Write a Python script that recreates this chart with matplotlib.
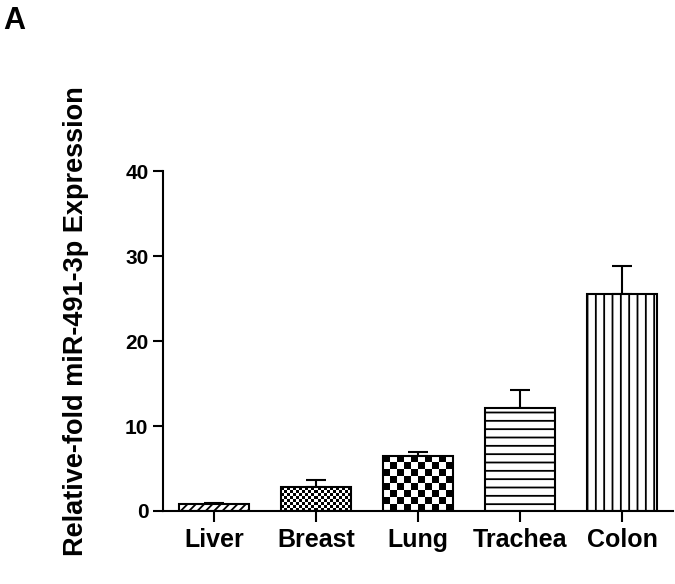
import matplotlib
matplotlib.use("Agg")
import matplotlib.pyplot as plt
import numpy as np

plt.rcParams["font.family"] = ["Liberation Sans", "DejaVu Sans"]
plt.rcParams["font.weight"] = "bold"
plt.rcParams["hatch.linewidth"] = 1.3

tissues = ["Liver", "Breast", "Lung", "Trachea", "Colon"]
expression = [0.8, 2.8, 6.5, 12.1, 25.5]
sem = [0.2, 0.8, 0.4, 2.1, 3.3]
hatches = ["////", "", "", "--", "||"]
checker_px = [None, 3, 7, None, None]

fig = plt.figure(figsize=(6.75, 5.84), dpi=100)
ax = fig.add_axes([0.2415, 0.125, 0.7555, 0.582])

x = np.arange(len(tissues))
bars = ax.bar(x, expression, width=0.68, color="white", edgecolor="black",
              linewidth=1.5, zorder=2)
for b, h, c in zip(bars, hatches, checker_px):
    b.set_hatch(h)
    if c is not None:
        b.set_facecolor("none")

ax.errorbar(x, expression, yerr=[np.zeros(len(sem)), sem], fmt="none",
            ecolor="black", elinewidth=1.5, capsize=7, capthick=1.5, zorder=1)

ax.set_xlim(-0.5, 4.5)
ax.set_ylim(0, 40)
ax.set_yticks([0, 10, 20, 30, 40])
ax.set_xticks(x)
ax.set_xticklabels(tissues, fontsize=18, fontweight="bold")
ax.tick_params(axis="y", labelsize=15, width=1.5, length=7, direction="out")
ax.tick_params(axis="x", width=1.5, length=8, direction="out", pad=4)
for lbl in ax.get_yticklabels():
    lbl.set_fontweight("bold")

for s in ["top", "right"]:
    ax.spines[s].set_visible(False)
for s in ["left", "bottom"]:
    ax.spines[s].set_linewidth(1.5)

ax.set_ylabel("Relative-fold miR-491-3p Expression", fontsize=19.5,
              fontweight="bold")
ax.yaxis.set_label_coords(-0.145, 0.56)

# checkerboard fills, clipped to the bars
fig.canvas.draw()
for b, cpx in zip(bars, checker_px):
    if cpx is None:
        continue
    x0, y0 = b.get_x(), 0
    x1, y1 = x0 + b.get_width(), b.get_height()
    p0 = ax.transData.transform((x0, y0))
    p1 = ax.transData.transform((x1, y1))
    nx = max(1, int(round((p1[0] - p0[0]) / cpx)))
    ny = max(1, int(round((p1[1] - p0[1]) / cpx)))
    grid = (np.add.outer(np.arange(ny), np.arange(nx)) % 2).astype(float)
    im = ax.imshow(grid, cmap="gray", extent=(x0, x1, y0, y1), aspect="auto",
                   interpolation="nearest", zorder=1.5, vmin=0, vmax=1)
    im.set_clip_path(b)

ax.set_xlim(-0.5, 4.5)
ax.set_ylim(0, 40)

fig.text(0.005, 0.99, "A", fontsize=22, fontweight="bold", va="top", ha="left")

fig.savefig("out.png", dpi=100)
